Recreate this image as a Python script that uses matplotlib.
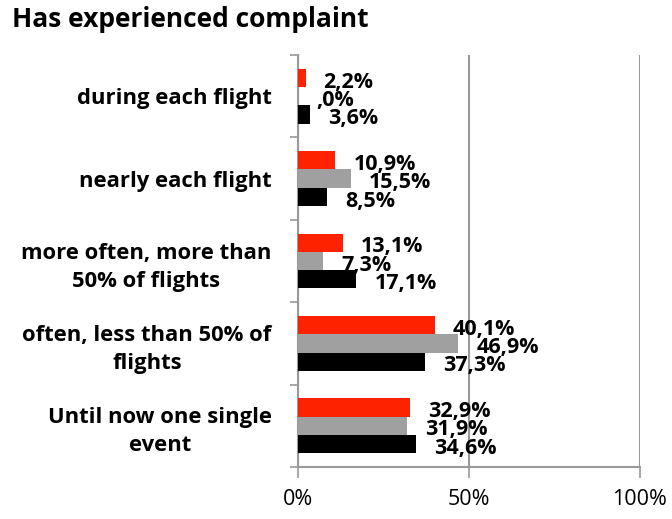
import numpy as np
import matplotlib
matplotlib.use("Agg")
import matplotlib.pyplot as plt

categories = ["during each flight",
              "nearly each flight",
              "more often, more than\n50% of flights",
              "often, less than 50% of\nflights",
              "Until now one single\nevent"]
red_vals = [2.2, 10.9, 13.1, 40.1, 32.9]
gray_vals = [0.0, 15.5, 7.3, 46.9, 31.9]
black_vals = [3.6, 8.5, 17.1, 37.3, 34.6]
series_colors = ["#ff2200", "#a0a0a0", "#000000"]
xticks = [0, 50, 100]
xtick_labels = ["0%", "50%", "100%"]

plt.rcParams['font.family'] = ['Open Sans', 'DejaVu Sans']

def fmt(v):
    s = "{:.1f}%".format(v).replace(".", ",")
    if s.startswith("0,"):
        s = s[1:]
    return s

fig = plt.figure(figsize=(6.72, 5.19), dpi=100)
ax = fig.add_axes([0.4435, 0.1002, 0.5085, 0.7938])

ind = np.arange(len(categories))
h = 0.222
for k, (vals, col) in enumerate(zip([red_vals, gray_vals, black_vals], series_colors)):
    pos = ind + (k - 1) * h
    ax.barh(pos, vals, height=h, color=col, zorder=3)
    for p, v in zip(pos, vals):
        ax.annotate(fmt(v), (v, p), xytext=(13, -3), textcoords="offset points",
                    ha="left", va="center", fontsize=15.5, fontweight="bold", zorder=4)

ax.set_xlim(0, 100)
ax.set_ylim(len(categories) - 0.5, -0.5)
ax.set_xticks(xticks)
ax.set_xticklabels(xtick_labels, fontsize=15.5)
ax.set_yticks(np.arange(-0.5, len(categories) + 0.5, 1.0))
ax.set_yticklabels([])
ax.set_yticks(ind, minor=True)
ax.set_yticklabels(categories, minor=True, fontsize=15.8, fontweight="bold",
                   multialignment="center", linespacing=1.45)
ax.tick_params(axis="y", which="minor", length=0, pad=19)
ax.tick_params(axis="y", which="major", length=6, color="#999999", width=1.2)
ax.tick_params(axis="x", length=8, color="#999999", width=1.2, pad=8)

ax.grid(axis="x", color="#999999", linewidth=1.5, zorder=0)
for s in ["top", "right"]:
    ax.spines[s].set_visible(False)
for s in ["left", "bottom"]:
    ax.spines[s].set_color("#999999")
    ax.spines[s].set_linewidth(1.5)

fig.text(0.018, 0.962, "Has experienced complaint", fontsize=19, fontweight="bold",
         ha="left", va="center")

plt.savefig("out.png", dpi=100)
